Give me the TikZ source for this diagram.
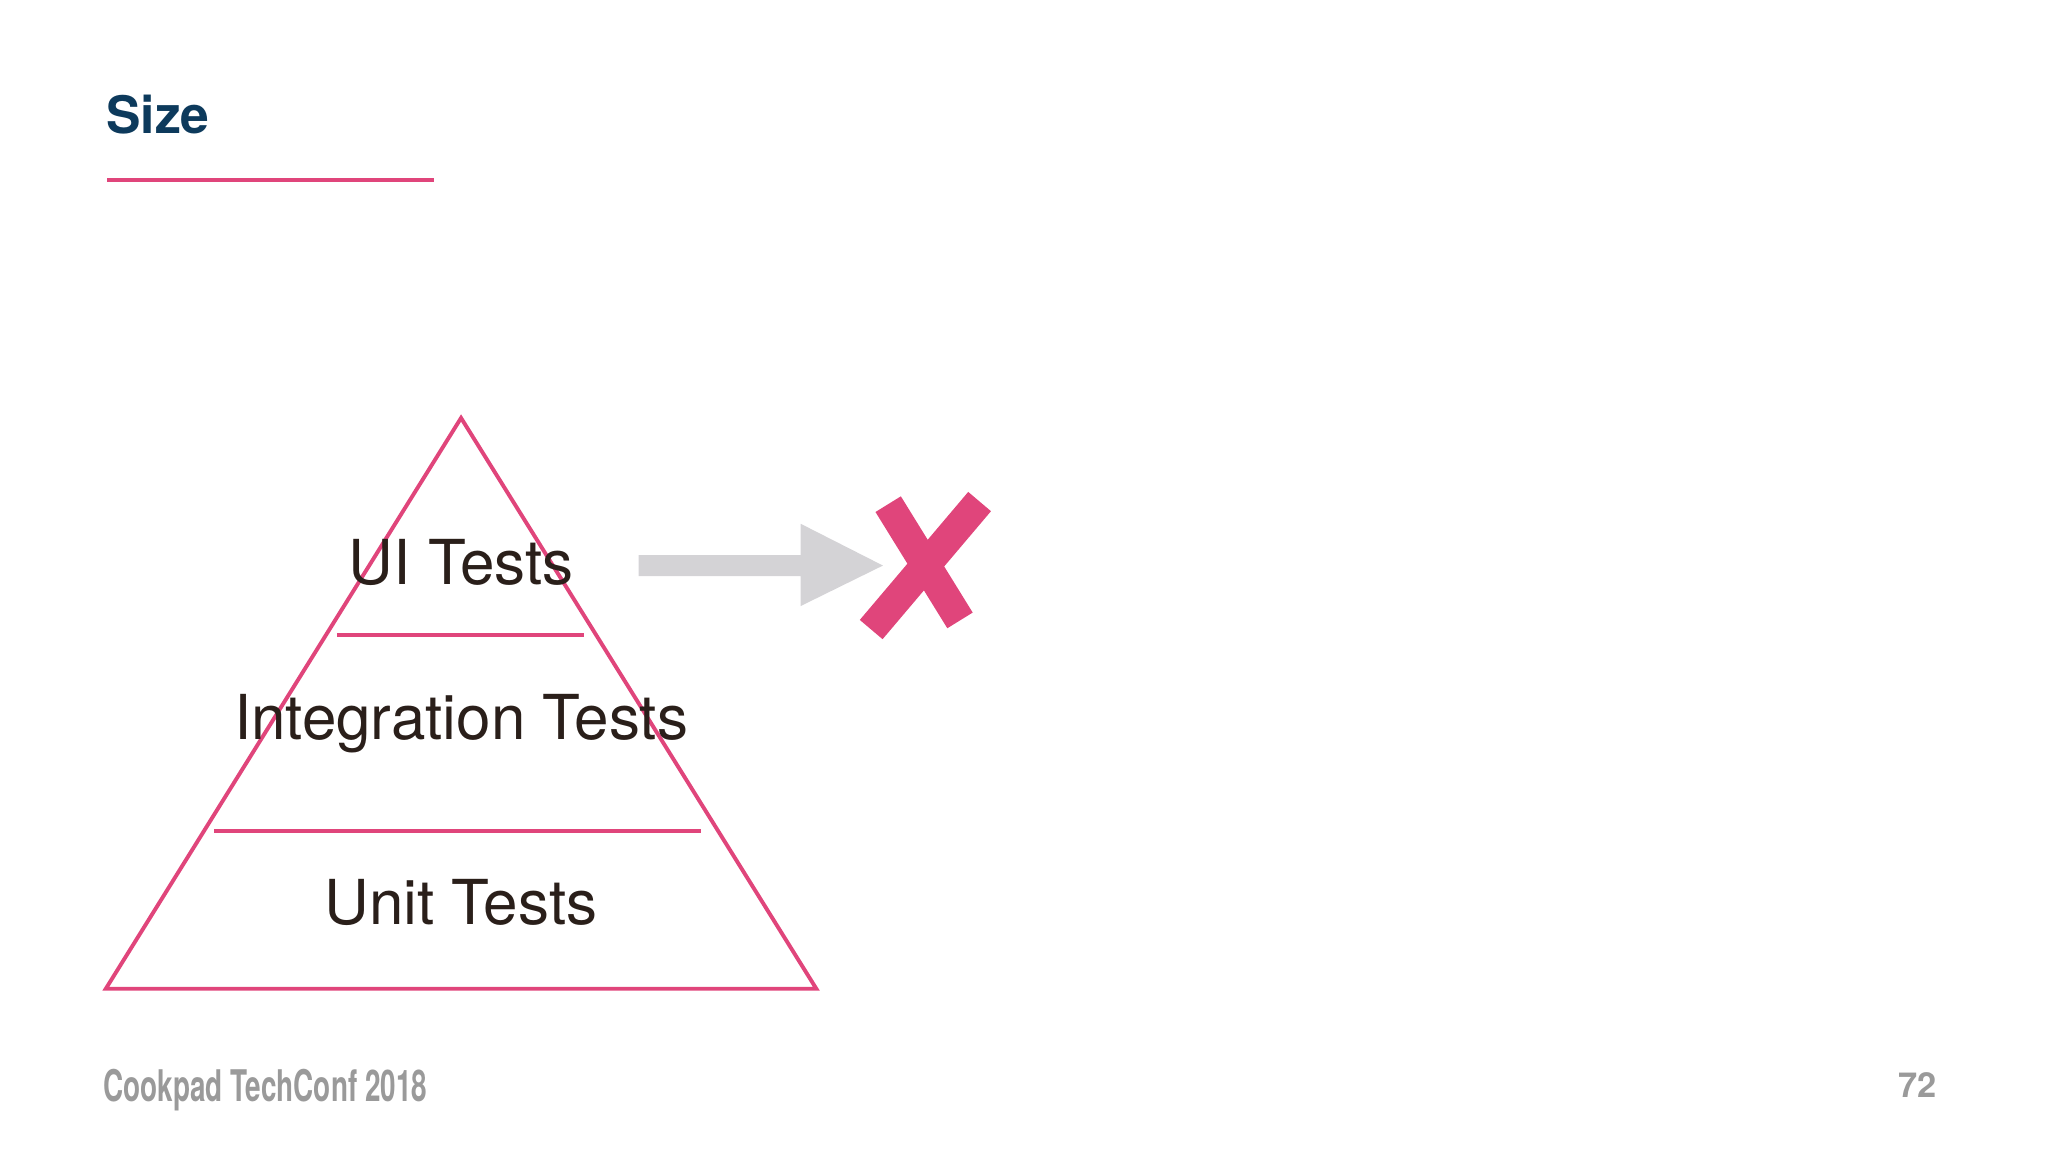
\documentclass[tikz,border=0pt]{standalone}
\usepackage{fontspec}
\setmainfont{TeX Gyre Heros}
\definecolor{pk}{HTML}{E0457B}
\definecolor{ttl}{HTML}{0D3A5C}
\definecolor{txt}{HTML}{2A1F1A}
\definecolor{gr}{HTML}{D4D3D6}
\definecolor{ft}{HTML}{9A9A9A}
\tikzset{pl/.style={draw=pk,line width=1.7pt},
lbl/.style={text=txt,font=\fontsize{27}{30}\selectfont},
xs/.style={draw=pk,line width=13pt,line cap=butt}}
\begin{document}
\begin{tikzpicture}[x=0.02cm,y=-0.02cm]
\useasboundingbox (0,0) rectangle (1568,882);
\node[anchor=base west,inner sep=0,text=ttl,font=\fontsize{22.5}{24}\selectfont\bfseries] (t) at (81,102) {Size};
\coordinate (l1) at (82,138); \coordinate (l2) at (332,138);
\draw[pl] (l1) -- (l2);
\coordinate (A) at (353,320); \coordinate (B) at (81,757); \coordinate (C) at (625,757);
\draw[pl,line join=miter] (A) -- (B) -- (C) -- cycle;
\coordinate (a1) at (258,486); \coordinate (a2) at (447,486);
\coordinate (b1) at (164,636); \coordinate (b2) at (537,636);
\draw[pl] (a1) -- (a2); \draw[pl] (b1) -- (b2);
\node[lbl] (ui) at (353,431) {UI Tests};
\node[lbl] (it) at (353,554) {Integration Tests};
\node[lbl] (ut) at (353,691) {Unit Tests};
\fill[gr] (489,425) -- (613,425) -- (613,401) -- (676,433) -- (613,464) -- (613,441) -- (489,441) -- cycle;
\draw[xs] (680,386) -- (735,475);
\draw[xs] (750,384) -- (667,482);
\node[anchor=base west,inner sep=0,text=ft,font=\fontsize{19}{20}\selectfont\bfseries,xscale=0.64] (f) at (79,843) {Cookpad TechConf 2018};
\node[anchor=base east,inner sep=0,text=ft,font=\fontsize{15}{16}\selectfont\bfseries] (n) at (1483,840) {72};
\end{tikzpicture}
\end{document}
